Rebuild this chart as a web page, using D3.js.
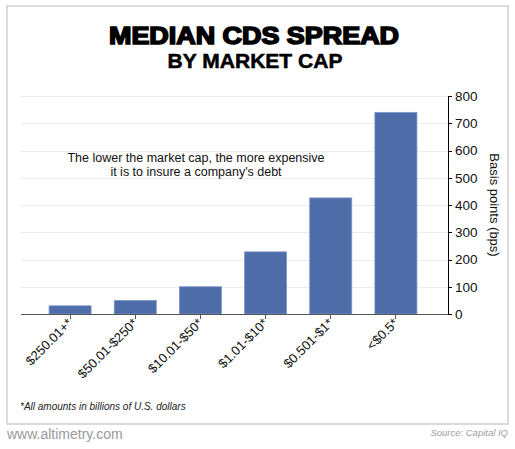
<!DOCTYPE html>
<html>
<meta charset="utf-8">
<style>
  body { margin: 0; background: #fff; }
  svg { width: 515px; height: 449px; display: block; }
  text { font-family: "Liberation Sans", Arial, sans-serif; }
  .axis { shape-rendering: crispEdges; }
</style>
<body>
  <svg></svg>
</body>
<script src="https://d3js.org/d3.v7.min.js"></script>
<script>

var categories = ["$250.01+*", "$50.01-$250*", "$10.01-$50*", "$1.01-$10*", "$0.501-$1*", "<$0.5*"];
var spreads = [30, 50, 100, 228, 426, 740];
var yTicks = [0, 100, 200, 300, 400, 500, 600, 700, 800];

var svg = d3.select("svg");

// frame
svg.append("rect")
  .attr("x", 7).attr("y", 6)
  .attr("width", 501).attr("height", 418)
  .attr("fill", "none")
  .attr("stroke", "#cfcfcf")
  .attr("stroke-width", 1.5);

// titles
svg.append("text")
  .attr("x", 254).attr("y", 44)
  .attr("text-anchor", "middle")
  .attr("font-size", 24)
  .attr("font-weight", "bold")
  .attr("stroke", "#000").attr("stroke-width", 1.6)
  .attr("textLength", 290)
  .attr("lengthAdjust", "spacingAndGlyphs")
  .text("MEDIAN CDS SPREAD");

svg.append("text")
  .attr("x", 255).attr("y", 68)
  .attr("text-anchor", "middle")
  .attr("font-size", 20)
  .attr("font-weight", "bold")
  .attr("stroke", "#000").attr("stroke-width", 0.5)
  .attr("textLength", 175)
  .attr("lengthAdjust", "spacingAndGlyphs")
  .text("BY MARKET CAP");

var plotLeft = 21, plotRight = 448, plotTop = 96, plotBottom = 314;

var x = d3.scaleBand()
  .domain(categories)
  .range([38, 428])
  .paddingInner(0.355)
  .paddingOuter(0.17);

var y = d3.scaleLinear()
  .domain([0, 800])
  .range([plotBottom, plotTop]);

// gridlines
svg.append("g")
  .selectAll("line")
  .data(yTicks.slice(1))
  .enter().append("line")
    .attr("x1", plotLeft).attr("x2", plotRight)
    .attr("y1", function(d) { return Math.round(y(d)) + 0.5; })
    .attr("y2", function(d) { return Math.round(y(d)) + 0.5; })
    .attr("stroke", "#ececec")
    .attr("stroke-width", 1);

// bars
svg.append("g")
  .selectAll("rect")
  .data(spreads)
  .enter().append("rect")
    .attr("x", function(d, i) { return x(categories[i]); })
    .attr("y", function(d) { return y(d); })
    .attr("width", x.bandwidth())
    .attr("height", function(d) { return y(0) - y(d); })
    .attr("fill", "#4e6da8")
    .attr("stroke", "#7d95c6")
    .attr("stroke-width", 0.8);

// x axis
var xAxis = d3.axisBottom(x).tickSize(5).tickSizeOuter(0).tickFormat("");
var gx = svg.append("g")
  .attr("class", "axis")
  .attr("transform", "translate(0," + plotBottom + ")")
  .call(xAxis);
gx.select(".domain").remove();
gx.selectAll(".tick line").attr("stroke", "#555");
gx.append("line")
  .attr("x1", plotLeft).attr("x2", plotRight)
  .attr("y1", 0).attr("y2", 0)
  .attr("stroke", "#555");

svg.append("g")
  .selectAll("text")
  .data(categories)
  .enter().append("text")
    .attr("transform", function(d) {
      return "translate(" + (x(d) + x.bandwidth() / 2 + 3) + "," + (plotBottom + 10) + ") rotate(-45)";
    })
    .attr("text-anchor", "end")
    .attr("font-size", 13)
    .attr("fill", "#111")
    .text(function(d) { return d; });

// y axis on the right
var yAxis = d3.axisRight(y).tickValues(yTicks).tickSize(4).tickSizeOuter(4).tickPadding(3);
var gy = svg.append("g")
  .attr("class", "axis")
  .attr("transform", "translate(" + plotRight + ",0)")
  .call(yAxis);
gy.select(".domain").attr("stroke", "#000");
gy.selectAll(".tick line").attr("stroke", "#000");
gy.selectAll(".tick text")
  .attr("font-family", "'Liberation Sans', Arial, sans-serif")
  .attr("font-size", 13.5)
  .attr("fill", "#111");

svg.append("text")
  .attr("transform", "translate(490,205) rotate(90)")
  .attr("text-anchor", "middle")
  .attr("font-size", 13)
  .attr("fill", "#111")
  .text("Basis points (bps)");

// annotation
svg.append("text")
  .attr("x", 196).attr("y", 162)
  .attr("text-anchor", "middle")
  .attr("font-size", 12.5)
  .attr("fill", "#111")
  .text("The lower the market cap, the more expensive");
svg.append("text")
  .attr("x", 196).attr("y", 176)
  .attr("text-anchor", "middle")
  .attr("font-size", 12.5)
  .attr("fill", "#111")
  .text("it is to insure a company's debt");

// footnotes
svg.append("text")
  .attr("x", 20).attr("y", 410)
  .attr("font-size", 10)
  .attr("font-style", "italic")
  .attr("fill", "#222")
  .text("*All amounts in billions of U.S. dollars");

svg.append("text")
  .attr("x", 7).attr("y", 439)
  .attr("font-size", 14)
  .attr("fill", "#9a9a9a")
  .text("www.altimetry.com");

svg.append("text")
  .attr("x", 508).attr("y", 436)
  .attr("text-anchor", "end")
  .attr("font-size", 9.5)
  .attr("font-style", "italic")
  .attr("fill", "#a0a0a0")
  .text("Source: Capital IQ");

</script>
</html>
